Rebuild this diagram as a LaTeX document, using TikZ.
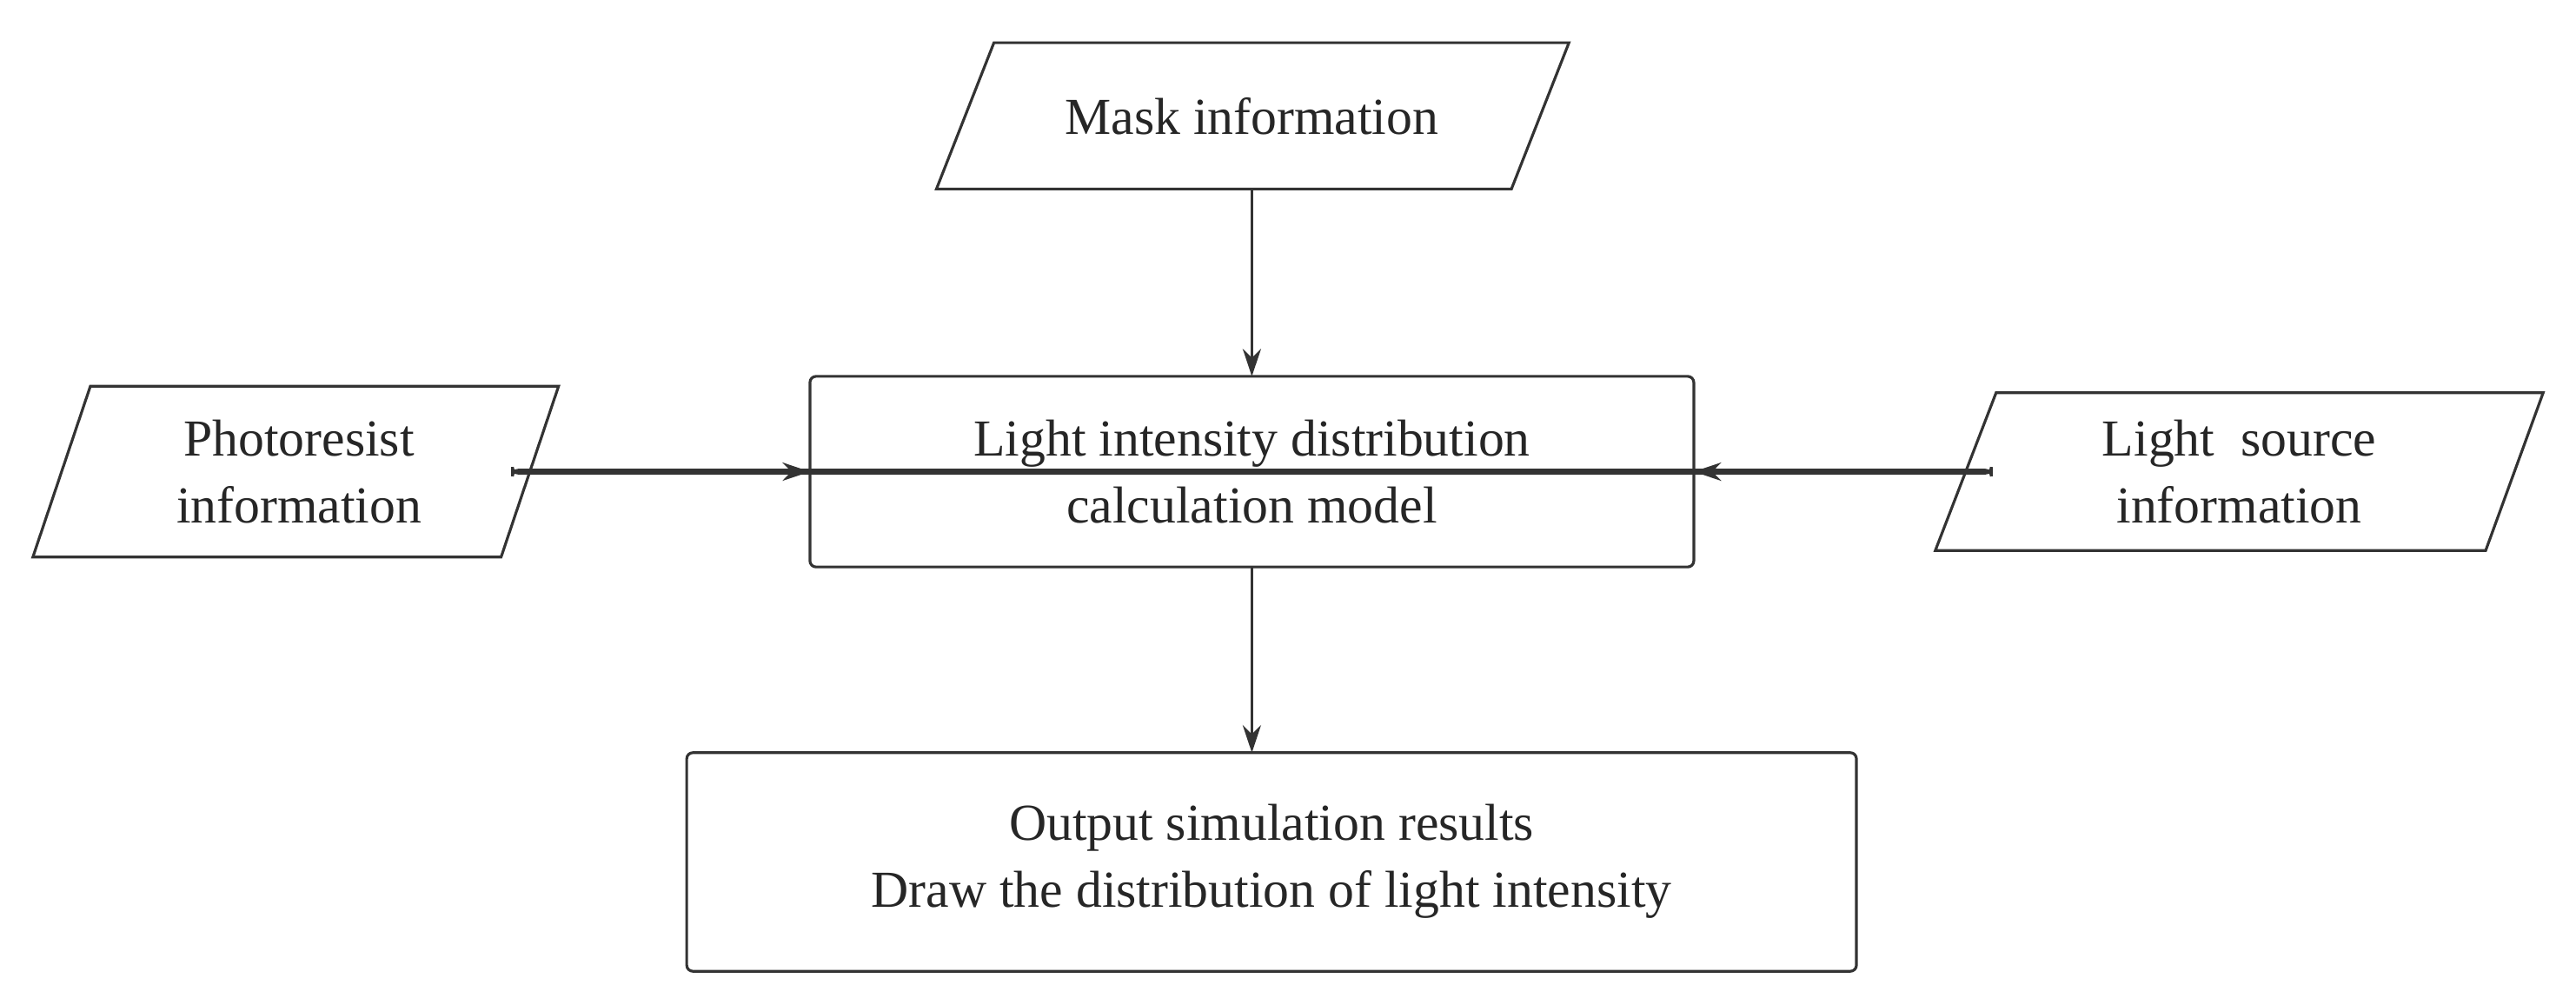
\documentclass[tikz,border=0pt]{standalone}
\usepackage{fontspec}
\setmainfont{Liberation Serif}
\usetikzlibrary{arrows.meta}
\begin{document}
\begin{tikzpicture}[x=0.0189cm,y=-0.0189cm,
  box/.style={draw=black!80,line width=0.9pt,rounded corners=2pt},
  para/.style={draw=black!80,line width=0.9pt},
  txt/.style={font=\fontsize{17}{22}\selectfont,align=center,text=black!85},
  arr/.style={draw=black!80,line width=0.9pt,-{Stealth[length=9pt,width=6pt]}}]
\useasboundingbox (0,0) rectangle (1568,611.5);
% mask
\draw[para] (605,26) -- (955,26) -- (920,115) -- (570,115) -- cycle;
\node[txt] (mask) at (762,71) {Mask information};
\coordinate (maskb) at (762,115);
% photoresist
\draw[para] (55,235) -- (340,235) -- (305,339) -- (20,339) -- cycle;
\node[txt] (photo) at (182,287) {Photoresist\\information};
\coordinate (photor) at (325,287);
% light source
\draw[para] (1215,239) -- (1548,239) -- (1513,335) -- (1178,335) -- cycle;
\node[txt] (light) at (1363,287) {Light\ \ source\\information};
\coordinate (lightl) at (1195,287);
% model
\node[box,txt,minimum width=538\pgflinewidth,inner sep=0pt] (model) at (762,287) {};
\draw[box] (493,229) rectangle (1031,345);
\node[txt] at (762,287) {Light intensity distribution\\calculation model};
\coordinate (mt) at (762,229);
\coordinate (mb) at (762,345);
\coordinate (ml) at (493,287);
\coordinate (mr) at (1031,287);
% output
\draw[box] (418,458) rectangle (1130,591);
\node[txt] (out) at (774,524) {Output simulation results\\Draw the distribution of light intensity};
\coordinate (ot) at (762,458);
% arrows
\draw[arr] (maskb) -- (mt);
\draw[arr] (photor) -- (ml);
\draw[arr] (lightl) -- (mr);
\draw[arr] (mb) -- (ot);
\end{tikzpicture}
\end{document}
